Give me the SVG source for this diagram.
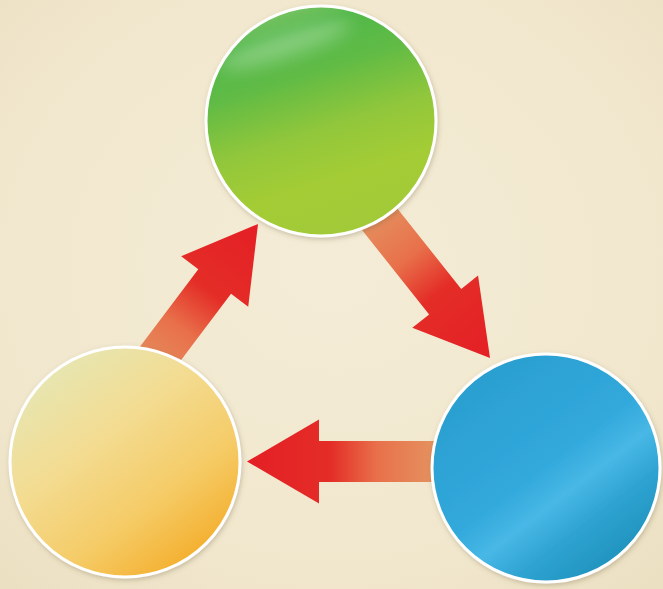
<svg xmlns="http://www.w3.org/2000/svg" width="663" height="589" viewBox="0 0 663 589">
  <defs>
    <radialGradient id="bg" cx="50%" cy="45%" r="75%">
      <stop offset="0" stop-color="#f4ecd7"/>
      <stop offset="0.7" stop-color="#f1e7cd"/>
      <stop offset="1" stop-color="#ebdfc1"/>
    </radialGradient>
    <linearGradient id="arrowGrad" gradientUnits="userSpaceOnUse" x1="-185" y1="0" x2="0" y2="0">
      <stop offset="0" stop-color="#e5905f"/>
      <stop offset="0.3" stop-color="#e8704a"/>
      <stop offset="0.55" stop-color="#e42d27"/>
      <stop offset="1" stop-color="#e41f25"/>
    </linearGradient>
    <linearGradient id="greenGrad" x1="0.3" y1="0" x2="0.62" y2="1">
      <stop offset="0" stop-color="#86c76e"/>
      <stop offset="0.12" stop-color="#52b848"/>
      <stop offset="0.3" stop-color="#5fbb45"/>
      <stop offset="0.55" stop-color="#92c73b"/>
      <stop offset="0.75" stop-color="#a3cc35"/>
      <stop offset="1" stop-color="#a2ca38"/>
    </linearGradient>
    <linearGradient id="yellowGrad" x1="0.15" y1="0.1" x2="0.8" y2="0.95">
      <stop offset="0" stop-color="#e6e6b2"/>
      <stop offset="0.35" stop-color="#f3dc92"/>
      <stop offset="0.7" stop-color="#f5cb66"/>
      <stop offset="1" stop-color="#f4ad2a"/>
    </linearGradient>
    <linearGradient id="blueGrad" x1="0.2" y1="0.1" x2="0.85" y2="0.95">
      <stop offset="0" stop-color="#2b9fd0"/>
      <stop offset="0.45" stop-color="#31a8db"/>
      <stop offset="0.6" stop-color="#48b8e6"/>
      <stop offset="0.75" stop-color="#2ea3d2"/>
      <stop offset="1" stop-color="#1d8fb8"/>
    </linearGradient>
    <clipPath id="greenClip"><circle cx="321" cy="121" r="114"/></clipPath>
    <filter id="shadow" x="-10%" y="-10%" width="120%" height="120%">
      <feDropShadow dx="1" dy="2" stdDeviation="2.5" flood-color="#6b5a3a" flood-opacity="0.3"/>
    </filter>
    <filter id="soft" x="-50%" y="-100%" width="200%" height="300%">
      <feGaussianBlur stdDeviation="9"/>
    </filter>
    <polygon id="arrowShape" points="-190,-20.5 -72,-20.5 -72,-42 0,0 -72,42 -72,20.5 -190,20.5"/>
  </defs>
  <style>
    .node { stroke: #ffffff; stroke-width: 3; filter: url(#shadow); }
    .arrow { fill: url(#arrowGrad); }
  </style>
  <rect width="663" height="589" fill="url(#bg)"/>
  <g id="connectors">
    <use href="#arrowShape" class="arrow" transform="translate(490,358) rotate(51.5)"/>
    <use href="#arrowShape" class="arrow" transform="translate(247,461.5) rotate(180)"/>
    <use href="#arrowShape" class="arrow" transform="translate(258,224) rotate(-53)"/>
  </g>
  <g id="node-green">
    <circle class="node" cx="321" cy="121" r="115" fill="url(#greenGrad)"/>
    <g clip-path="url(#greenClip)">
      <ellipse cx="285" cy="45" rx="70" ry="12" fill="#ffffff" opacity="0.3" filter="url(#soft)" transform="rotate(-18 285 45)"/>
    </g>
  </g>
  <g id="node-yellow">
    <circle class="node" cx="125" cy="462" r="115" fill="url(#yellowGrad)"/>
  </g>
  <g id="node-blue">
    <circle class="node" cx="546" cy="468" r="114" fill="url(#blueGrad)"/>
  </g>
</svg>
